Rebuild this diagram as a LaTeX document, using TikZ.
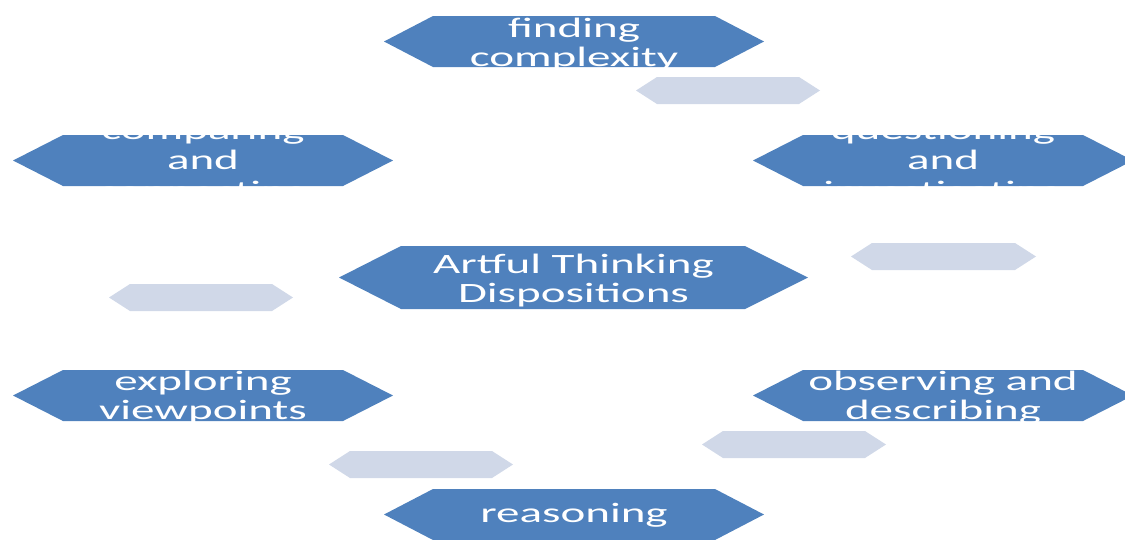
\documentclass[tikz,border=0pt]{standalone}
\usepackage{fontspec}
\newfontfamily\hexfont[FakeStretch=1.68]{Carlito}
\definecolor{hexblue}{RGB}{79,129,189}
\definecolor{hexlight}{RGB}{208,216,232}
\begin{document}
\begin{tikzpicture}[x=1pt,y=-1pt,
  lbl/.style={anchor=base, inner sep=0pt, text=white, font=\hexfont\fontsize{28}{30}\selectfont},
  bighex/.style={fill=hexblue},
  smallhex/.style={fill=hexlight}]
\useasboundingbox (0,0) rectangle (1125,539);
\clip (0,0) rectangle (1125,539);
% finding complexity
\fill[bighex] (384,41.5) -- (433,16) -- (715,16) -- (764,41.5) -- (715,67) -- (433,67) -- cycle;
\begin{scope}
\clip (384,16) rectangle (764,67);
\node[lbl] (fc1) at (574,37.3) {finding};
\node[lbl] (fc2) at (574,66.8) {complexity};
\end{scope}
% light 1
\fill[smallhex] (636,90.5) -- (657,77) -- (799,77) -- (820,90.5) -- (799,104) -- (657,104) -- cycle;
% comparing and connecting
\fill[bighex] (13,160.5) -- (63,135) -- (343,135) -- (393,160.5) -- (343,186) -- (63,186) -- cycle;
\begin{scope}
\clip (13,135) rectangle (393,186);
\node[lbl] (cc1) at (203,139.5) {comparing};
\node[lbl] (cc2) at (203,169.5) {and};
\node[lbl] (cc3) at (203,200.5) {connecting};
\end{scope}
% questioning and investigating
\fill[bighex] (753,160.5) -- (803,135) -- (1083,135) -- (1133,160.5) -- (1083,186) -- (803,186) -- cycle;
\begin{scope}
\clip (753,135) rectangle (1133,186);
\node[lbl] (qi1) at (943,139.5) {questioning};
\node[lbl] (qi2) at (943,169.5) {and};
\node[lbl] (qi3) at (943,200.5) {investigating};
\end{scope}
% center
\fill[bighex] (339,277.5) -- (401,246) -- (745,246) -- (808,277.5) -- (745,309) -- (401,309) -- cycle;
\node[lbl] (at1) at (573.5,273) {Artful Thinking};
\node[lbl] (at2) at (573.5,302.3) {Dispositions};
% light left / right
\fill[smallhex] (109,297.5) -- (130,284) -- (272,284) -- (293,297.5) -- (272,311) -- (130,311) -- cycle;
\fill[smallhex] (851,256.5) -- (872,243) -- (1015,243) -- (1036,256.5) -- (1015,270) -- (872,270) -- cycle;
% exploring viewpoints
\fill[bighex] (13,395.5) -- (63,370) -- (343,370) -- (393,395.5) -- (343,421) -- (63,421) -- cycle;
\begin{scope}
\clip (13,370) rectangle (393,421);
\node[lbl] (ev1) at (203,390) {exploring};
\node[lbl] (ev2) at (203,419.5) {viewpoints};
\end{scope}
% observing and describing
\fill[bighex] (753,395.5) -- (803,370) -- (1083,370) -- (1133,395.5) -- (1083,421) -- (803,421) -- cycle;
\begin{scope}
\clip (753,370) rectangle (1133,421);
\node[lbl] (od1) at (943,390) {observing and};
\node[lbl] (od2) at (943,419.5) {describing};
\end{scope}
% light bottom
\fill[smallhex] (329,464.5) -- (350,451) -- (492,451) -- (513,464.5) -- (492,478) -- (350,478) -- cycle;
\fill[smallhex] (702,444.5) -- (723,431) -- (865,431) -- (886,444.5) -- (865,458) -- (723,458) -- cycle;
% reasoning
\fill[bighex] (384,514.5) -- (433,489) -- (715,489) -- (764,514.5) -- (715,540) -- (433,540) -- cycle;
\node[lbl] (re) at (574,522.5) {reasoning};
\end{tikzpicture}
\end{document}
